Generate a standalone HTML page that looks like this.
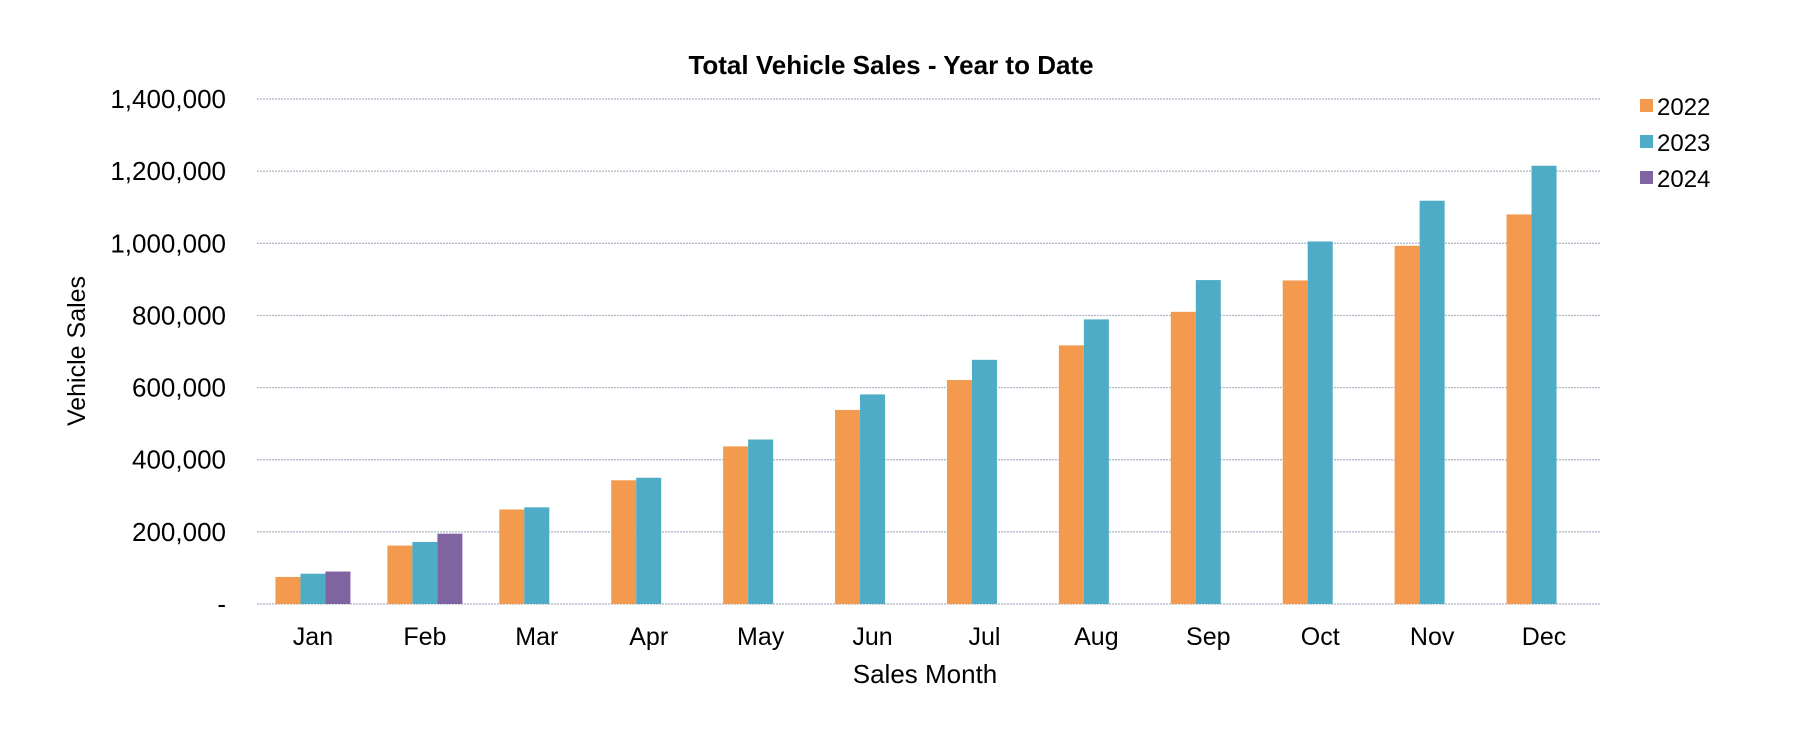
<!DOCTYPE html>
<html><head><meta charset="utf-8"><style>
html,body{margin:0;padding:0;background:#fff;}
svg{display:block;font-family:"Liberation Sans",Arial,sans-serif;}
</style></head><body>
<svg id="chart" width="1800" height="732" viewBox="0 0 1800 732">
<text x="891" y="74" text-anchor="middle" font-size="26" font-weight="bold">Total Vehicle Sales - Year to Date</text>
<text transform="translate(85,351) rotate(-90)" text-anchor="middle" font-size="25">Vehicle Sales</text>
<text x="925" y="683" text-anchor="middle" font-size="26">Sales Month</text>
<g id="grid"></g><g id="bars"></g><g id="xlabels"></g><g id="ylabels"></g>
<g>
<rect x="1640" y="99" width="13" height="13" fill="#F39A4F"/>
<text x="1657" y="115" font-size="24">2022</text>
<rect x="1640" y="135" width="13" height="13" fill="#4EACC6"/>
<text x="1657" y="151" font-size="24">2023</text>
<rect x="1640" y="171" width="13" height="13" fill="#8064A2"/>
<text x="1657" y="187" font-size="24">2024</text>
</g>
</svg>
<script>
const categories=["Jan","Feb","Mar","Apr","May","Jun","Jul","Aug","Sep","Oct","Nov","Dec"];
const sales2022=[75000,162000,262000,343000,437000,538000,621000,717000,810000,897000,993000,1080000];
const sales2023=[84000,172000,268000,350000,456000,581000,677000,789000,898000,1005000,1118000,1215000];
const sales2024=[90000,195000,null,null,null,null,null,null,null,null,null,null];
const yTicks=[0,200000,400000,600000,800000,1000000,1200000,1400000];
const yTickLabels=["-","200,000","400,000","600,000","800,000","1,000,000","1,200,000","1,400,000"];

const NS="http://www.w3.org/2000/svg";
const L=257,R=1600,T=99,B=604,YMAX=1400000;
const catW=(R-L)/categories.length,barW=25;
function y(v){return B-(v/YMAX)*(B-T);}
function xc(i){return L+catW*(i+0.5);}
function mk(tag,attrs,parent){const e=document.createElementNS(NS,tag);for(const k in attrs)e.setAttribute(k,attrs[k]);parent.appendChild(e);return e;}
const grid=document.getElementById('grid'),bars=document.getElementById('bars'),xl=document.getElementById('xlabels'),yl=document.getElementById('ylabels');
yTicks.forEach((t,i)=>{
  const ln=mk('line',{x1:L,x2:R,y1:y(t),y2:y(t),stroke:'#a9b4c2','stroke-width':1.2,'stroke-dasharray':'2,1'},grid);
  
  
  const tx=mk('text',{x:226,y:y(t)+9,'text-anchor':'end','font-size':26},yl);
  tx.textContent=yTickLabels[i];
  
  
});
const series=[[sales2022,'#F39A4F','2022'],[sales2023,'#4EACC6','2023'],[sales2024,'#8064A2','2024']];
categories.forEach((c,i)=>{
  const start=xc(i)-barW*1.5;
  series.forEach((s,j)=>{
    const v=s[0][i];
    if(v==null)return;
    const r=mk('rect',{x:start+j*barW,y:y(v),width:barW,height:B-y(v),fill:s[1]},bars);
    
    
  });
  const tx=mk('text',{x:xc(i),y:645,'text-anchor':'middle','font-size':25},xl);
  tx.textContent=c;
  
  
});
</script>
</body></html>
